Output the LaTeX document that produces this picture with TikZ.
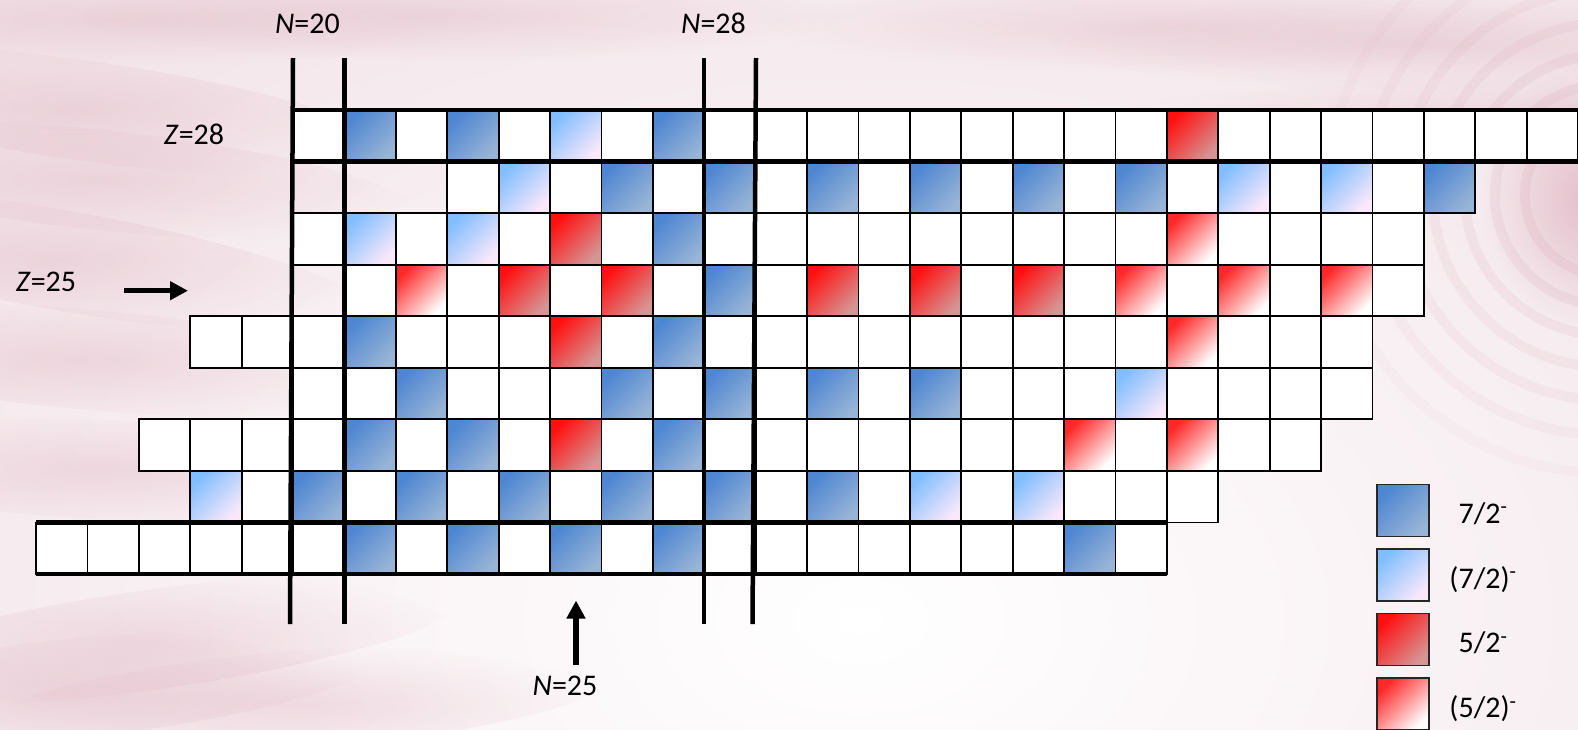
\documentclass[tikz,border=0pt]{standalone}
\usepackage{fontspec}
\setmainfont{Carlito}
\usetikzlibrary{arrows.meta,fadings}

% spin-parity colours (top-left -> bottom-right of each box)
\definecolor{dbA}{RGB}{78,134,210}
\definecolor{dbB}{RGB}{152,180,214}
\definecolor{lbA}{RGB}{128,190,255}
\definecolor{lbB}{RGB}{250,232,250}
\definecolor{drA}{RGB}{255,16,16}
\definecolor{drB}{RGB}{214,148,148}
\definecolor{lrA}{RGB}{255,40,40}
\definecolor{lrB}{RGB}{255,255,255}
% background
\definecolor{bgpink}{RGB}{242,227,232}
\definecolor{bgdeep}{RGB}{214,156,174}

\tikzfading[name=softblob, inner color=transparent!0, outer color=transparent!100]

\tikzset{
  cell/.style={draw=black, line width=1.8pt, minimum width=51.4pt,
    minimum height=51.56pt, inner sep=0pt, outer sep=0pt, fill=white},
  cw/.style={cell},
  cb/.style={cell, top color=dbA, bottom color=dbB, shading angle=45},
  cl/.style={cell, top color=lbA, bottom color=lbB, shading angle=45},
  cr/.style={cell, top color=drA, bottom color=drB, shading angle=45},
  cp/.style={cell, top color=lrA, bottom color=lrB, shading angle=45},
  cx/.style={cell, draw=none, fill=none},
  magic/.style={line width=4.5pt, line cap=butt},
  lbl/.style={font=\fontsize{30}{36}\selectfont, inner sep=0pt, anchor=base},
  pointer/.style={line width=5.3pt, -{Triangle[length=18pt,width=18pt]}},
  keybox/.style={draw=black!85, line width=1.6pt, minimum width=52pt,
    minimum height=52pt, inner sep=0pt},
  haze/.style={bgdeep, path fading=softblob},
}

\begin{document}
\begin{tikzpicture}[x=1pt,y=-1pt]
\useasboundingbox (0,0) rectangle (1578,729);

% ---------- background ----------
\begin{scope}
  \clip (0,0) rectangle (1578,729);
  \fill[bgpink] (0,0) rectangle (1578,729);
  \shade[inner color=white, outer color=bgpink]
    (860,620) ellipse [x radius=1250, y radius=820];
  % ripples, right-hand side
  \fill[haze, opacity=0.55] (1590,200) ellipse [x radius=110, y radius=130];
  \foreach \r/\o in {80/0.16,110/0.15,140/0.14,172/0.12,205/0.10,240/0.08,278/0.06}
    \draw[bgdeep, opacity=\o, line width=10pt] (1605,195) circle [radius=\r];
  % soft streaks, left and top
  \foreach \xx/\yy/\a in {80/110/-8,100/180/-6,60/260/-10,90/360/-5,
                          110/470/-3,150/640/8,300/700/5,60/690/6}
    \fill[haze, opacity=0.28, rotate around={\a:(\xx,\yy)}]
      (\xx,\yy) ellipse [x radius=320, y radius=50];
  \foreach \xx/\yy in {120/20,460/16,1150/26,1430/45,1500/120}
    \fill[haze, opacity=0.25] (\xx,\yy) ellipse [x radius=380, y radius=45];
\end{scope}

% ---------- cells: Z / first N / state of each N ----------
\foreach \z/\nfirst/\states in {
  28/20/{w,b,w,b,w,l,w,b,w,w,w,w,w,w,w,w,w,r,w,w,w,w,w,w,w,w},
  27/20/{x,x,x,w,l,w,b,w,b,w,b,w,b,w,b,w,b,w,l,w,l,w,b},
  26/20/{w,l,w,l,w,r,w,b,w,w,w,w,w,w,w,w,w,p,w,w,w,w},
  25/20/{x,w,p,w,r,w,r,w,b,w,r,w,r,w,r,w,p,w,p,w,p,w},
  24/18/{w,w,w,b,w,w,w,r,w,b,w,w,w,w,w,w,w,w,w,p,w,w,w},
  23/20/{w,w,b,w,w,w,b,w,b,w,b,w,b,w,w,w,l,w,w,w,w},
  22/17/{w,w,w,w,b,w,b,w,r,w,b,w,w,w,w,w,w,w,p,w,p,w,w},
  21/18/{l,w,b,w,b,w,b,w,b,w,b,w,b,w,l,w,l,w,w,w},
  20/15/{w,w,w,w,w,w,b,w,b,w,b,w,b,w,w,w,w,w,w,w,b,w}}
{
  \foreach \t [count=\i from 0] in \states {
    \pgfmathtruncatemacro{\nn}{\nfirst+\i}
    \node[c\t] (c\nn-\z) at ({318.7+(\nn-20)*51.4},{135.78+(28-\z)*51.56}) {};
  }
}

% ---------- magic-number lines ----------
% Z = 28 and Z = 20
\draw[magic] (c20-28.north west) -- (1600,110);
\draw[magic] (c20-28.south west) -- (1600,161.56);
\draw[magic] (c15-20.north west) -- (c36-20.north east);
\draw[magic] (c15-20.south west) -- (c36-20.south east);
% N = 20 and N = 28
\draw[magic] (293,58) -- (290,624);
\draw[magic] (344.4,58) -- (344.4,624);
\draw[magic] (704.2,58) -- (704.2,624);
\draw[magic] (756,58) -- (752.5,624);

% ---------- labels and pointers ----------
\node[lbl] (n20) at (307.5,33.5) {\textit{N}=20};
\node[lbl] (n28) at (713.5,33.5) {\textit{N}=28};
\node[lbl] (z28) at (194,144) {\textit{Z}=28};
\node[lbl] (z25) at (46,291) {\textit{Z}=25};
\node[lbl] (n25) at (565,695) {\textit{N}=25};

\coordinate (zp0) at (124,290.7);
\coordinate (zp1) at (188,290.7);
\draw[pointer] (zp0) -- (zp1);
\coordinate (np0) at (576,665);
\coordinate (np1) at (576,600.5);
\draw[pointer] (np0) -- (np1);

% ---------- key ----------
\node[keybox, top color=dbA, bottom color=dbB, shading angle=45] (k1) at (1403,510.3) {};
\node[keybox, top color=lbA, bottom color=lbB, shading angle=45] (k2) at (1403,574.9) {};
\node[keybox, top color=drA, bottom color=drB, shading angle=45] (k3) at (1403,639.5) {};
\node[keybox, top color=lrA, bottom color=lrB, shading angle=45] (k4) at (1403,704.1) {};
\node[lbl] (t1) at (1483,523) {7/2\textsuperscript{-}};
\node[lbl] (t2) at (1483,588) {(7/2)\textsuperscript{-}};
\node[lbl] (t3) at (1483,652.7) {5/2\textsuperscript{-}};
\node[lbl] (t4) at (1483,717.4) {(5/2)\textsuperscript{-}};
\end{tikzpicture}
\end{document}
